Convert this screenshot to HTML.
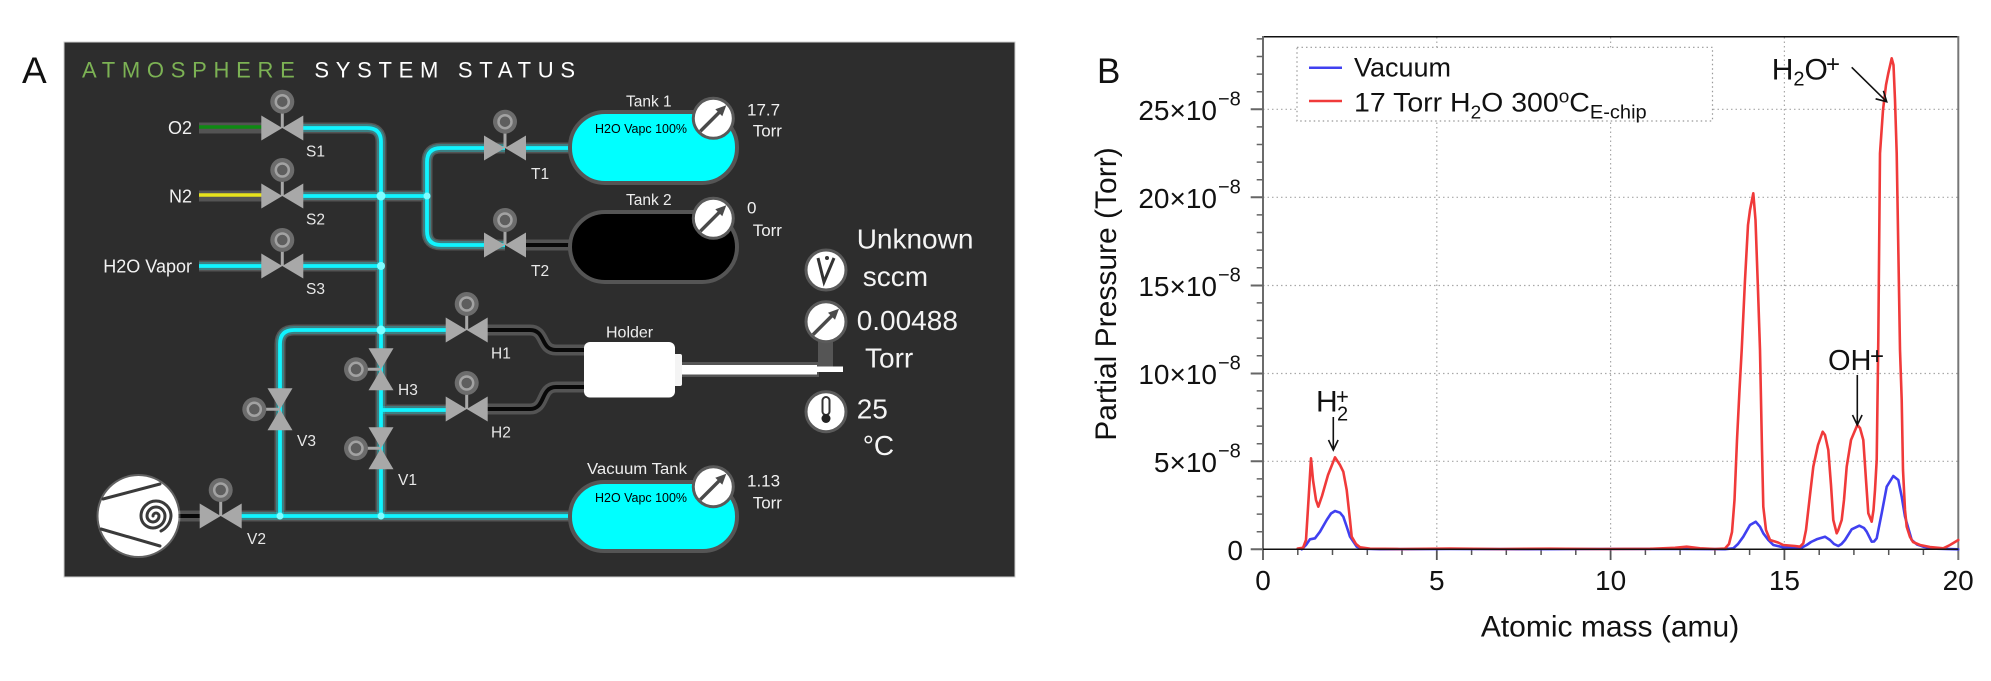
<!DOCTYPE html>
<html>
<head>
<meta charset="utf-8">
<style>
  html,body{margin:0;padding:0;background:#fff;}
  svg{display:block;}
  text{font-family:"Liberation Sans", Arial, sans-serif;}
</style>
</head>
<body>
<svg width="1991" height="681" viewBox="0 0 1991 681" xmlns="http://www.w3.org/2000/svg">
  <rect x="0" y="0" width="1991" height="681" fill="#ffffff"/>

  <!-- ================= PANEL A ================= -->
  <text x="22" y="83" font-size="37" fill="#111">A</text>
  <rect x="64" y="42" width="951" height="535" fill="#2d2d2d" stroke="#cfcfcf" stroke-width="1"/>

  <text x="82" y="77.7" font-size="22" textLength="493" lengthAdjust="spacing"><tspan fill="#7cb254">ATMOSPHERE</tspan><tspan fill="#ffffff"> SYSTEM STATUS</tspan></text>

  <!-- gray pipe bodies -->
  <g fill="none" stroke="#545454" stroke-width="11" stroke-linejoin="round">
    <path d="M199,128 H262"/>
    <path d="M199,196 H262"/>
    <path d="M199,266 H262"/>
    <path d="M302,128 H367 Q381,128 381,142 V516"/>
    <path d="M302,196 H427"/>
    <path d="M505,148 H441 Q427,148 427,162 V231 Q427,245 441,245 H505"/>
    <path d="M302,266 H381"/>
    <path d="M446,330 H294 Q280,330 280,344 V516"/>
    <path d="M381,410 H446"/>
    <path d="M176,516 H200"/>
    <path d="M241,516 H574"/>
    <path d="M526,148 H574"/>
    <path d="M526,245 H574"/>
    <path d="M487,330 H530 C546,330 540,350 556,350 H586"/>
    <path d="M487,409 H530 C546,409 540,387 556,387 H586"/>
  </g>

  <!-- cyan glow -->
  <g fill="none" stroke="#00f4ff" stroke-width="8" stroke-opacity="0.28" stroke-linejoin="round">
    <path d="M199,266 H262"/>
    <path d="M302,128 H367 Q381,128 381,142 V516"/>
    <path d="M302,196 H427"/>
    <path d="M505,148 H441 Q427,148 427,162 V231 Q427,245 441,245 H505"/>
    <path d="M302,266 H381"/>
    <path d="M446,330 H294 Q280,330 280,344 V516"/>
    <path d="M381,410 H446"/>
    <path d="M241,516 H574"/>
    <path d="M526,148 H574"/>
  </g>
  <!-- colored inner lines -->
  <g fill="none" stroke-linejoin="round">
    <path d="M199,127 H262" stroke="#0e8a12" stroke-width="3.5"/>
    <path d="M199,195 H262" stroke="#e8e31c" stroke-width="3.5"/>
    <g stroke="#10f4ff" stroke-width="3.8">
      <path d="M199,266 H262"/>
      <path d="M302,128 H367 Q381,128 381,142 V516"/>
      <path d="M302,196 H427"/>
      <path d="M505,148 H441 Q427,148 427,162 V231 Q427,245 441,245 H505"/>
      <path d="M302,266 H381"/>
      <path d="M446,330 H294 Q280,330 280,344 V516"/>
      <path d="M381,410 H446"/>
      <path d="M241,516 H574"/>
      <path d="M526,148 H574"/>
    </g>
    <g stroke="#080808" stroke-width="4">
      <path d="M178,516 H200"/>
      <path d="M526,245 H574"/>
      <path d="M487,330 H530 C546,330 540,350 556,350 H586"/>
      <path d="M487,409 H530 C546,409 540,387 556,387 H586"/>
    </g>
  </g>
  <!-- junction glows -->
  <g fill="#7ffcff">
    <circle cx="381" cy="196" r="4.5"/>
    <circle cx="381" cy="266" r="4"/>
    <circle cx="381" cy="330" r="4.5"/>
    <circle cx="427" cy="196" r="3.5"/>
    <circle cx="381" cy="516" r="3.5"/>
    <circle cx="280" cy="516" r="3.5"/>
  </g>

  <!-- Tanks -->
  <rect x="570" y="112" width="167" height="71" rx="35" fill="#00ffff" stroke="#555" stroke-width="4"/>
  <rect x="570" y="212" width="167" height="70" rx="35" fill="#000000" stroke="#555" stroke-width="4"/>
  <rect x="570" y="482" width="167" height="69" rx="34" fill="#00ffff" stroke="#555" stroke-width="4"/>
  <text x="595" y="133" font-size="13" fill="#000" textLength="92" lengthAdjust="spacingAndGlyphs">H2O Vapc 100%</text>
  <text x="595" y="502" font-size="13" fill="#000" textLength="92" lengthAdjust="spacingAndGlyphs">H2O Vapc 100%</text>
  <g fill="#eeeeee" font-size="15.5">
    <text x="626" y="106.5">Tank 1</text>
    <text x="626" y="205">Tank 2</text>
    <text x="587" y="474" textLength="100" lengthAdjust="spacingAndGlyphs">Vacuum Tank</text>
    <text x="606" y="337.5" font-size="16">Holder</text>
  </g>

  <!-- Holder -->
  <rect x="818" y="340" width="15" height="30" fill="#555"/>
  <rect x="679" y="362" width="140" height="15" fill="#555"/>
  <rect x="681" y="365" width="136" height="9.5" fill="#ffffff"/>
  <rect x="815" y="366.5" width="28" height="5.5" fill="#ffffff"/>
  <rect x="673" y="354" width="9" height="32" rx="2" fill="#f4f4f4"/>
  <rect x="584" y="342" width="91" height="55.5" rx="6" fill="#ffffff"/>

  <!-- Pump -->
  <circle cx="138.5" cy="516" r="42" fill="#ffffff" opacity="0.25"/>
  <circle cx="138.5" cy="516" r="40" fill="#ffffff"/>
  <g fill="none" stroke="#3a3a3a" stroke-width="3" stroke-linecap="round">
    <path d="M103,499 L160,484"/>
    <path d="M101,529 L160,546"/>
    <path d="M153,516 a3,3 0 0 1 6,0 a6,6 0 0 1 -12,0 a9,9 0 0 1 18,0 a12,12 0 0 1 -24,0 a15,15 0 0 1 30,0 a18,18 0 0 1 -10,15"/>
  </g>

  <!-- valve stems -->
  <g stroke="#a8a8a8" stroke-width="3">
    <line x1="282.3" y1="128" x2="282.3" y2="102"/>
    <line x1="282.3" y1="196" x2="282.3" y2="170"/>
    <line x1="282.3" y1="266" x2="282.3" y2="240"/>
    <line x1="505" y1="148" x2="505" y2="122"/>
    <line x1="505" y1="245" x2="505" y2="220"/>
    <line x1="466.7" y1="330" x2="466.7" y2="304"/>
    <line x1="466.7" y1="409" x2="466.7" y2="383"/>
    <line x1="220.7" y1="516" x2="220.7" y2="490"/>
    <line x1="381" y1="369.3" x2="356" y2="369.3"/>
    <line x1="381" y1="448.3" x2="356" y2="448.3"/>
    <line x1="280" y1="409.3" x2="254.3" y2="409.3"/>
  </g>
  <!-- horizontal valves -->
  <g fill="#a8a8a8">
    <path d="M261.3,115.5 L261.3,140.5 L282.3,128 Z M303.3,115.5 L303.3,140.5 L282.3,128 Z"/>
    <path d="M261.3,183.5 L261.3,208.5 L282.3,196 Z M303.3,183.5 L303.3,208.5 L282.3,196 Z"/>
    <path d="M261.3,253.5 L261.3,278.5 L282.3,266 Z M303.3,253.5 L303.3,278.5 L282.3,266 Z"/>
    <path d="M484,135.5 L484,160.5 L505,148 Z M526,135.5 L526,160.5 L505,148 Z"/>
    <path d="M484,232.5 L484,257.5 L505,245 Z M526,232.5 L526,257.5 L505,245 Z"/>
    <path d="M445.7,317.5 L445.7,342.5 L466.7,330 Z M487.7,317.5 L487.7,342.5 L466.7,330 Z"/>
    <path d="M445.7,396.5 L445.7,421.5 L466.7,409 Z M487.7,396.5 L487.7,421.5 L466.7,409 Z"/>
    <path d="M199.7,503.5 L199.7,528.5 L220.7,516 Z M241.7,503.5 L241.7,528.5 L220.7,516 Z"/>
    <!-- vertical valves -->
    <path d="M368.5,348.3 L393.5,348.3 L381,369.3 Z M368.5,390.3 L393.5,390.3 L381,369.3 Z"/>
    <path d="M368.5,427.3 L393.5,427.3 L381,448.3 Z M368.5,469.3 L393.5,469.3 L381,448.3 Z"/>
    <path d="M267.5,388.3 L292.5,388.3 L280,409.3 Z M267.5,430.3 L292.5,430.3 L280,409.3 Z"/>
  </g>
  <!-- actuator knobs -->
  <g>
    <g fill="#6c6c6c">
      <circle cx="282.3" cy="101.7" r="12"/>
      <circle cx="282.3" cy="170" r="12"/>
      <circle cx="282.3" cy="240" r="12"/>
      <circle cx="505" cy="121.7" r="12"/>
      <circle cx="505" cy="220" r="12"/>
      <circle cx="466.7" cy="304" r="12"/>
      <circle cx="466.7" cy="383" r="12"/>
      <circle cx="220.7" cy="490" r="12"/>
      <circle cx="356" cy="369.3" r="12"/>
      <circle cx="356" cy="448.3" r="12"/>
      <circle cx="254.3" cy="409.3" r="12"/>
    </g>
    <g fill="#5e5e5e" stroke="#a2a2a2" stroke-width="2.5">
      <circle cx="282.3" cy="101.7" r="6.5"/>
      <circle cx="282.3" cy="170" r="6.5"/>
      <circle cx="282.3" cy="240" r="6.5"/>
      <circle cx="505" cy="121.7" r="6.5"/>
      <circle cx="505" cy="220" r="6.5"/>
      <circle cx="466.7" cy="304" r="6.5"/>
      <circle cx="466.7" cy="383" r="6.5"/>
      <circle cx="220.7" cy="490" r="6.5"/>
      <circle cx="356" cy="369.3" r="6.5"/>
      <circle cx="356" cy="448.3" r="6.5"/>
      <circle cx="254.3" cy="409.3" r="6.5"/>
    </g>
  </g>

  <!-- gas labels -->
  <g fill="#f2f2f2" font-size="18" text-anchor="end">
    <text x="192" y="134">O2</text>
    <text x="192" y="202.5">N2</text>
    <text x="192" y="272.5">H2O Vapor</text>
  </g>
  <!-- valve labels -->
  <g fill="#e8e8e8" font-size="15.5">
    <text x="306" y="156.5">S1</text>
    <text x="306" y="224.5">S2</text>
    <text x="306" y="294">S3</text>
    <text x="531" y="179">T1</text>
    <text x="531" y="276">T2</text>
    <text x="491" y="358.5">H1</text>
    <text x="491" y="437.5">H2</text>
    <text x="398" y="395">H3</text>
    <text x="398" y="485">V1</text>
    <text x="297" y="446">V3</text>
    <text x="247" y="544">V2</text>
  </g>

  <!-- gauges -->
  <defs>
    <g id="gauge">
      <circle cx="0" cy="0" r="20" fill="#ffffff" stroke="#5a5a5a" stroke-width="3"/>
      <line x1="-13" y1="13" x2="9" y2="-9" stroke="#4a4a4a" stroke-width="3.5"/>
      <path d="M13,-13 L2,-9 L9,-2 Z" fill="#4a4a4a"/>
    </g>
  </defs>
  <use href="#gauge" x="713.3" y="118.3"/>
  <use href="#gauge" x="713.3" y="218.3"/>
  <use href="#gauge" x="713.3" y="486.7"/>
  <use href="#gauge" x="826" y="321.7"/>
  <!-- flow gauge -->
  <circle cx="826" cy="270" r="20" fill="#ffffff" stroke="#5a5a5a" stroke-width="3"/>
  <path d="M818,258 L824,282 L834,258" fill="none" stroke="#333" stroke-width="3"/>
  <circle cx="827" cy="258" r="2" fill="#333"/>
  <!-- thermometer gauge -->
  <circle cx="826" cy="411.7" r="20" fill="#ffffff" stroke="#5a5a5a" stroke-width="3"/>
  <rect x="822.5" y="397" width="7" height="18" rx="3.5" fill="none" stroke="#333" stroke-width="2"/>
  <circle cx="826" cy="418.5" r="4.5" fill="#222"/>

  <g fill="#f0f0f0" font-size="17">
    <text x="747" y="115.3">17.7</text>
    <text x="752.7" y="136.7">Torr</text>
    <text x="747" y="213.3">0</text>
    <text x="752.7" y="236">Torr</text>
    <text x="747" y="486.7">1.13</text>
    <text x="752.7" y="508.7">Torr</text>
  </g>
  <g fill="#f4f4f4" font-size="28">
    <text x="856.7" y="248.3">Unknown</text>
    <text x="862.7" y="286">sccm</text>
    <text x="856.7" y="330">0.00488</text>
    <text x="865" y="367.3">Torr</text>
    <text x="856.7" y="418.3">25</text>
    <text x="862.7" y="455">°C</text>
  </g>

  <!-- ================= PANEL B ================= -->
  <text x="1097" y="83" font-size="35" fill="#111">B</text>

  <!-- grid -->
  <g stroke="#a8a8a8" stroke-width="1.2" stroke-dasharray="1.5,3" fill="none">
    <path d="M1436.8,37 V549 M1610.6,37 V549 M1784.4,37 V549"/>
    <path d="M1263,461.3 H1958 M1263,373.5 H1958 M1263,285.5 H1958 M1263,197.3 H1958 M1263,109.3 H1958"/>
  </g>

  <!-- legend -->
  <rect x="1297" y="47.3" width="415.5" height="73.7" fill="#ffffff" stroke="#999" stroke-width="1.2" stroke-dasharray="1.5,3"/>
  <line x1="1309" y1="67.7" x2="1342" y2="67.7" stroke="#4040f0" stroke-width="2.5"/>
  <line x1="1309" y1="101" x2="1342" y2="101" stroke="#f03a3a" stroke-width="2.5"/>
  <text x="1354" y="76.7" font-size="27" fill="#111">Vacuum</text>
  <text x="1354" y="111.7" font-size="27" fill="#111" textLength="292.7" lengthAdjust="spacingAndGlyphs">17 Torr H<tspan font-size="18" dy="7">2</tspan><tspan dy="-7">O 300</tspan><tspan font-size="18" dy="-9">o</tspan><tspan dy="9">C</tspan><tspan font-size="19" dy="7">E-chip</tspan></text>

  <!-- axes -->
  <line x1="1263" y1="36.7" x2="1958.3" y2="36.7" stroke="#111" stroke-width="1.5"/>
  <line x1="1958.3" y1="36" x2="1958.3" y2="560" stroke="#777" stroke-width="2"/>
  <line x1="1263" y1="36" x2="1263" y2="560" stroke="#6b6b6b" stroke-width="2"/>
  <!-- y ticks -->
  <path d="M1250.7,549.3 H1263 M1250.7,461.3 H1263 M1250.7,373.5 H1263 M1250.7,285.5 H1263 M1250.7,197.3 H1263 M1250.7,109.3 H1263" stroke="#666" stroke-width="2"/>
  <path d="M1256.7,531.7 H1263 M1256.7,514.1 H1263 M1256.7,496.5 H1263 M1256.7,478.9 H1263 M1256.7,443.7 H1263 M1256.7,426.1 H1263 M1256.7,408.5 H1263 M1256.7,390.9 H1263 M1256.7,355.7 H1263 M1256.7,338.1 H1263 M1256.7,320.5 H1263 M1256.7,302.9 H1263 M1256.7,267.7 H1263 M1256.7,250.1 H1263 M1256.7,232.5 H1263 M1256.7,214.9 H1263 M1256.7,179.7 H1263 M1256.7,162.1 H1263 M1256.7,144.5 H1263 M1256.7,126.9 H1263 M1256.7,91.7 H1263 M1256.7,74.1 H1263 M1256.7,56.5 H1263 M1256.7,38.9 H1263" stroke="#666" stroke-width="1.5"/>
  <!-- x ticks -->
  <path d="M1436.8,549.3 V560 M1610.6,549.3 V560 M1784.4,549.3 V560" stroke="#555" stroke-width="1.8"/>
  <path d="M1297.8,549.3 V555 M1332.5,549.3 V555 M1367.3,549.3 V555 M1402,549.3 V555 M1471.6,549.3 V555 M1506.3,549.3 V555 M1541.1,549.3 V555 M1575.8,549.3 V555 M1645.4,549.3 V555 M1680.1,549.3 V555 M1714.9,549.3 V555 M1749.6,549.3 V555 M1819.2,549.3 V555 M1853.9,549.3 V555 M1888.7,549.3 V555 M1923.4,549.3 V555" stroke="#555" stroke-width="1.5"/>

  <!-- tick labels -->
  <g font-size="28" fill="#111">
    <text x="1243" y="560" text-anchor="end">0</text>
    <text x="1217" y="472" text-anchor="end">5×10</text>
    <text x="1217" y="384.2" text-anchor="end">10×10</text>
    <text x="1217" y="296.2" text-anchor="end">15×10</text>
    <text x="1217" y="208" text-anchor="end">20×10</text>
    <text x="1217" y="120" text-anchor="end">25×10</text>
  </g>
  <g font-size="20" fill="#111">
    <text x="1218" y="457.3">−8</text>
    <text x="1218" y="369.5">−8</text>
    <text x="1218" y="281.5">−8</text>
    <text x="1218" y="193.3">−8</text>
    <text x="1218" y="105.3">−8</text>
  </g>
  <g font-size="28" fill="#111" text-anchor="middle">
    <text x="1263" y="590">0</text>
    <text x="1436.8" y="590">5</text>
    <text x="1610.6" y="590">10</text>
    <text x="1784.4" y="590">15</text>
    <text x="1958.2" y="590">20</text>
  </g>
  <text x="1610" y="636.7" font-size="30" fill="#111" text-anchor="middle">Atomic mass (amu)</text>
  <text transform="translate(1116,294) rotate(-90)" x="0" y="0" font-size="30" fill="#111" text-anchor="middle">Partial Pressure (Torr)</text>

  <!-- series -->
  <polyline fill="none" stroke="#4040f0" stroke-width="2.6" stroke-linejoin="round" stroke-linecap="round"
    points="1301.7,549.3 1306,545 1310,539.3 1315,538.3 1320,531.7 1326.7,520 1331,513.5 1335,511 1340,512.7 1343.3,516.7 1346.5,526 1350,536.7 1356.7,546.7 1363.3,548.7 1380,549.2 1450,549 1520,549.2 1600,549 1680,548.9 1725,549.2 1733.3,548.3 1738,544 1743.3,536.7 1750,525 1755.7,521.7 1760,526.7 1763.3,533.3 1768.3,540 1773.3,545 1783.3,547.3 1796.7,548.3 1802,547.5 1806.7,545 1811,542 1816.7,539.3 1825,536.7 1830,540 1834,544 1838.3,546 1841.5,544 1845,540 1851.7,529.3 1859.3,525.7 1864,528 1866.7,531.7 1871.7,541.7 1874,541.5 1876.7,538.3 1881.7,513.3 1886.7,486.7 1893.3,476 1898.3,480 1901.7,496.7 1905,516.7 1911.7,540 1917,544.5 1923.3,546.7 1936.7,548.7 1958.3,549.3"/>
  <polyline fill="none" stroke="#f03a3a" stroke-width="2.6" stroke-linejoin="round" stroke-linecap="round"
    points="1297.7,548.5 1303,547.8 1306,540 1308.5,500 1311,458.3 1313,480 1316,500 1318.3,506.7 1322,496 1328,475 1335,457.3 1340,465 1343.3,471.7 1346.7,490 1350,520 1351.7,536.7 1356,544 1360,547.3 1370,548.7 1400,549 1450,548.6 1500,549 1550,548.7 1600,549 1650,548.8 1675,547.8 1686.7,546.7 1700,548.3 1715,549 1725,548.5 1729,544 1732,532 1734.5,500 1737,440 1739.5,390 1741.7,350 1745,280 1748,225 1750,210 1753.3,193.3 1755.5,220 1758,290 1760,350 1762,450 1763.3,506.7 1766,530 1770,540 1778,542.5 1783.3,545 1795,546 1800,546.7 1803.3,543.3 1806,530 1810,495 1813.3,466.7 1818,445 1822.7,431.7 1825,435 1828.3,450 1831,485 1833.3,520 1836.7,533.3 1838.3,530 1841.7,520 1844,500 1846.7,466.7 1851,440 1857.3,425 1860,428 1863.3,440 1866,480 1868.3,513.3 1871.7,521.7 1873.5,510 1875,490 1876.7,460 1878.3,340 1880,153.3 1883,110 1886,85 1888.3,73.3 1891.7,58.3 1893.5,65 1895,100 1896.7,153.3 1898.5,260 1900,350 1901.7,400 1903,470 1905,510 1906.7,526.7 1910,537 1913,542 1920,545 1930,547 1943.3,548.3 1950,545 1958.3,540"/>
  <line x1="1263" y1="549.3" x2="1958.3" y2="549.3" stroke="#111" stroke-width="1.5"/>

  <!-- annotations -->
  <g fill="#111">
    <text x="1316" y="411.7" font-size="30">H</text>
    <text x="1337" y="420.7" font-size="20">2</text>
    <text x="1336" y="404" font-size="22">+</text>
    <text x="1828" y="370" font-size="29">OH</text>
    <text x="1870" y="364" font-size="24">+</text>
    <text x="1771.7" y="79.3" font-size="30">H<tspan font-size="20" dy="6">2</tspan><tspan dy="-6">O</tspan></text>
    <text x="1826" y="72" font-size="24">+</text>
  </g>
  <g stroke="#111" stroke-width="1.6" fill="none">
    <line x1="1333.3" y1="417" x2="1333.3" y2="450"/>
    <polyline points="1328.5,440 1333.3,450 1338.1,440"/>
    <line x1="1857.3" y1="375" x2="1857.3" y2="425"/>
    <polyline points="1852.5,415 1857.3,425 1862.1,415"/>
    <line x1="1851.7" y1="67.3" x2="1886.7" y2="101.7"/>
    <polyline points="1875.6,98.8 1886.7,101.7 1883.4,90.8"/>
  </g>
</svg>
</body>
</html>
